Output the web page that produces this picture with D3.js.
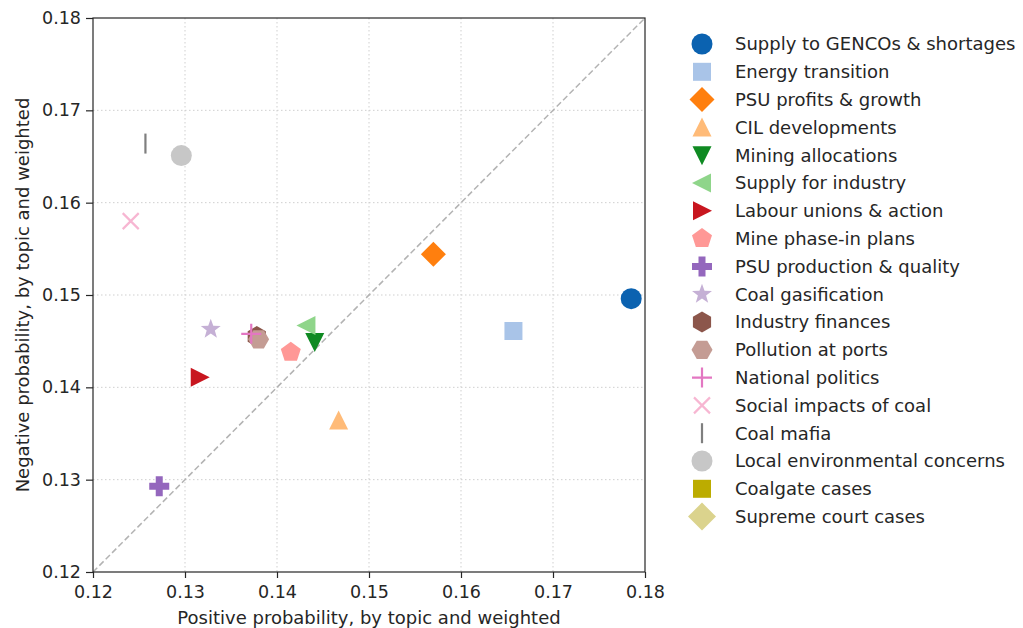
<!DOCTYPE html>
<html>
<head>
<meta charset="utf-8">
<script src="https://cdn.jsdelivr.net/npm/d3@7"></script>
<style>
  body { margin: 0; background: #fff; }
  svg text { font-family: "DejaVu Sans", sans-serif; fill: #262626; }
</style>
</head>
<body>
<svg id="chart" width="1023" height="628"></svg>
<script>
// Topic sentiment: weighted positive vs. negative probability per topic
const topics = [
  "Supply to GENCOs & shortages", "Energy transition", "PSU profits & growth",
  "CIL developments", "Mining allocations", "Supply for industry",
  "Labour unions & action", "Mine phase-in plans", "PSU production & quality",
  "Coal gasification", "Industry finances", "Pollution at ports",
  "National politics", "Social impacts of coal", "Coal mafia",
  "Local environmental concerns", "Coalgate cases", "Supreme court cases"
];
const positive = [0.1785, 0.1657, 0.1570, 0.1467, 0.1441, 0.1432, 0.1316, 0.1415, 0.1272,
                  0.1328, 0.1378, 0.1380, 0.1372, 0.1241, 0.1257, 0.1296, null, null];
const negative = [0.1496, 0.1461, 0.1544, 0.1364, 0.1449, 0.1467, 0.1411, 0.1438, 0.1293,
                  0.1463, 0.1455, 0.1452, 0.1458, 0.1580, 0.1664, 0.1651, null, null];
const colors = ["#0b62b0", "#a9c4e8", "#ff7f0e", "#ffbb78", "#0f8a22", "#8fd58a", "#c8161f",
                "#ff9896", "#9467bd", "#c5b0d5", "#8c564b", "#c49c94", "#e377c2", "#f7b6d2",
                "#7f7f7f", "#c7c7c7", "#bcac00", "#dbd38d"];
const shapes = ["circle", "square", "diamond", "triUp", "triDown", "triLeft", "triRight",
                "pentagon", "plusFilled", "star", "hexagon1", "hexagon2", "plus", "cross",
                "vline", "circle", "square", "bigDiamond"];
const xTicks = [0.12, 0.13, 0.14, 0.15, 0.16, 0.17, 0.18];
const yTicks = [0.12, 0.13, 0.14, 0.15, 0.16, 0.17, 0.18];

const svg = d3.select("#chart");
const m = { left: 93, right: 645, top: 18, bottom: 572 };
const x = d3.scaleLinear().domain([0.12, 0.18]).range([m.left, m.right]);
const y = d3.scaleLinear().domain([0.12, 0.18]).range([m.bottom, m.top]);

// Marker outline generators (filled paths) and stroked ones
function poly(pts) { return "M" + pts.map(p => p.join(",")).join("L") + "Z"; }
function regular(n, r, rot) {
  const pts = [];
  for (let i = 0; i < n; i++) {
    const a = rot + i * 2 * Math.PI / n;
    pts.push([r * Math.sin(a), -r * Math.cos(a)]);
  }
  return poly(pts);
}
function markerPath(kind) {
  switch (kind) {
    case "circle": return d3.symbol(d3.symbolCircle, Math.PI * 10.5 * 10.5)();
    case "square": return poly([[-9, -9], [9, -9], [9, 9], [-9, 9]]);
    case "diamond": return poly([[0, -12.5], [12.5, 0], [0, 12.5], [-12.5, 0]]);
    case "bigDiamond": return poly([[0, -14], [14, 0], [0, 14], [-14, 0]]);
    case "triUp": return poly([[0, -10], [9.5, 9], [-9.5, 9]]);
    case "triDown": return poly([[0, 10], [9.5, -9], [-9.5, -9]]);
    case "triLeft": return poly([[-10, 0], [9, -9.5], [9, 9.5]]);
    case "triRight": return poly([[10, 0], [-9, -9.5], [-9, 9.5]]);
    case "pentagon": return regular(5, 10.5, 0);
    case "hexagon1": return regular(6, 10.5, 0);
    case "hexagon2": return regular(6, 10.5, Math.PI / 6);
    case "star": {
      const pts = [];
      for (let i = 0; i < 10; i++) {
        const r = i % 2 === 0 ? 10.5 : 4.3;
        const a = i * Math.PI / 5;
        pts.push([r * Math.sin(a), -r * Math.cos(a)]);
      }
      return poly(pts);
    }
    case "plusFilled": {
      const a = 3.5, b = 10;
      return poly([[-a, -b], [a, -b], [a, -a], [b, -a], [b, a], [a, a], [a, b], [-a, b],
                   [-a, a], [-b, a], [-b, -a], [-a, -a]]);
    }
    case "plus": return "M-10,0L10,0M0,-10L0,10";
    case "cross": return "M-8,-8L8,8M-8,8L8,-8";
    case "vline": return "M0,-10L0,10";
  }
}
const stroked = new Set(["plus", "cross", "vline"]);
function drawMarker(g, kind, color) {
  const p = g.append("path").attr("d", markerPath(kind));
  if (stroked.has(kind)) p.attr("fill", "none").attr("stroke", color).attr("stroke-width", 2.2);
  else p.attr("fill", color);
}

// Grid
const grid = svg.append("g");
grid.selectAll("line.gx").data(xTicks.slice(1, -1)).join("line")
  .attr("x1", d => x(d)).attr("x2", d => x(d)).attr("y1", m.top).attr("y2", m.bottom)
  .attr("stroke", "#cfcfcf").attr("stroke-width", 1).attr("stroke-dasharray", "1.5,2.5");
grid.selectAll("line.gy").data(yTicks.slice(1, -1)).join("line")
  .attr("y1", d => y(d)).attr("y2", d => y(d)).attr("x1", m.left).attr("x2", m.right)
  .attr("stroke", "#cfcfcf").attr("stroke-width", 1).attr("stroke-dasharray", "1.5,2.5");

// Parity line
svg.append("line")
  .attr("x1", x(0.12)).attr("y1", y(0.12)).attr("x2", x(0.18)).attr("y2", y(0.18))
  .attr("stroke", "#b3b3b3").attr("stroke-width", 1.5).attr("stroke-dasharray", "6,3");

// Points
svg.append("defs").append("clipPath").attr("id", "plotClip").append("rect")
  .attr("x", m.left).attr("y", m.top).attr("width", m.right - m.left).attr("height", m.bottom - m.top);
const pts = svg.append("g").attr("clip-path", "url(#plotClip)");
topics.forEach((t, i) => {
  if (positive[i] == null || negative[i] == null) return;
  const g = pts.append("g").attr("transform", `translate(${x(positive[i])},${y(negative[i])})`);
  drawMarker(g, shapes[i], colors[i]);
});

// Axes
const fmt = d3.format(".2f");
const xAxis = svg.append("g").attr("transform", `translate(0,${m.bottom})`)
  .call(d3.axisBottom(x).tickValues(xTicks).tickFormat(fmt).tickSize(6).tickPadding(4));
const yAxis = svg.append("g").attr("transform", `translate(${m.left},0)`)
  .call(d3.axisLeft(y).tickValues(yTicks).tickFormat(fmt).tickSize(7).tickPadding(5));
[xAxis, yAxis].forEach(a => {
  a.select(".domain").remove();
  a.selectAll("line").attr("stroke", "#262626").attr("stroke-width", 1.2);
  a.selectAll("text").attr("font-size", 17.5).attr("font-family", "DejaVu Sans, sans-serif").attr("fill", "#262626");
});
xAxis.selectAll("text").attr("dy", "0.9em");

// Frame
svg.append("rect").attr("x", m.left).attr("y", m.top)
  .attr("width", m.right - m.left).attr("height", m.bottom - m.top)
  .attr("fill", "none").attr("stroke", "#262626").attr("stroke-width", 1.2);

// Axis titles
svg.append("text").attr("x", (m.left + m.right) / 2).attr("y", 624)
  .attr("text-anchor", "middle").attr("font-size", 18)
  .text("Positive probability, by topic and weighted");
svg.append("text").attr("transform", `translate(29,${(m.top + m.bottom) / 2}) rotate(-90)`)
  .attr("text-anchor", "middle").attr("font-size", 18)
  .text("Negative probability, by topic and weighted");

// Legend
const leg = svg.append("g").attr("transform", "translate(702,44)");
topics.forEach((t, i) => {
  const row = leg.append("g").attr("transform", `translate(0,${i * 27.8})`);
  drawMarker(row, shapes[i], colors[i]);
  row.append("text").attr("x", 33).attr("y", 0).attr("dy", "0.35em")
    .attr("font-size", 18).text(t);
});
</script>
</body>
</html>
